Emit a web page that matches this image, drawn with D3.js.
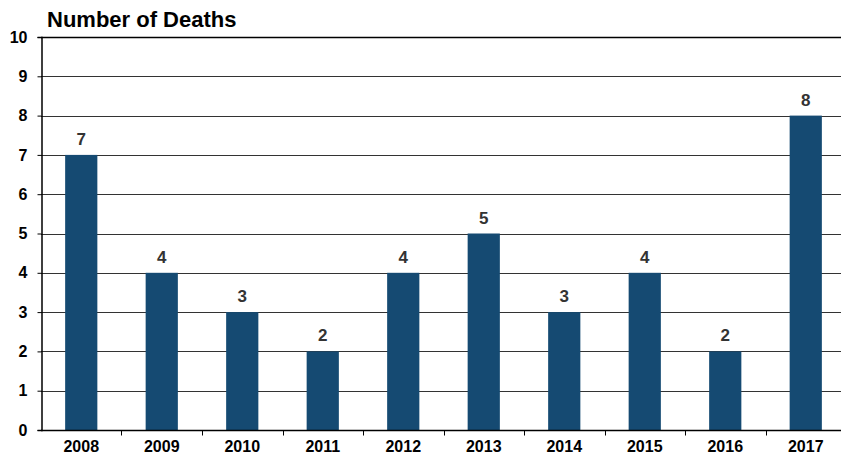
<!DOCTYPE html>
<meta charset="utf-8">
<style>
    body { margin: 0; background: #fff; }
    text { font-family: "Liberation Sans", Arial, sans-serif; font-weight: bold; }
</style>
<script src="https://d3js.org/d3.v7.min.js"></script>
<svg width="841" height="454"></svg>
<script>
    var years = ["2008", "2009", "2010", "2011", "2012", "2013", "2014", "2015", "2016", "2017"];
    var deaths = [7, 4, 3, 2, 4, 5, 3, 4, 2, 8];
    var yTicks = [0, 1, 2, 3, 4, 5, 6, 7, 8, 9, 10];

    var svg = d3.select("svg");
    var plotLeft = 41, plotRight = 846, plotTop = 37, plotBottom = 430;

    var x = d3.scaleBand().domain(years).range([plotLeft, plotRight]).paddingInner(0.6).paddingOuter(0.3);
    var y = d3.scaleLinear().domain([0, 10]).range([plotBottom, plotTop]);

    // gridlines
    svg.append("g").selectAll("line")
        .data(yTicks.slice(1))
        .enter().append("line")
        .attr("x1", plotLeft).attr("x2", 841)
        .attr("y1", function (d) { return Math.round(y(d)) + 0.5; })
        .attr("y2", function (d) { return Math.round(y(d)) + 0.5; })
        .attr("stroke", function (d) { return d === 10 ? "#000" : "#333"; })
        .attr("stroke-width", function (d) { return d === 10 ? 1.5 : 1; });

    // bars
    svg.append("g").selectAll("rect")
        .data(deaths)
        .enter().append("rect")
        .attr("x", function (d, i) { return x(years[i]); })
        .attr("width", x.bandwidth())
        .attr("y", function (d) { return y(d); })
        .attr("height", function (d) { return y(0) - y(d); })
        .attr("fill", "#154a72");

    // value labels
    svg.append("g").selectAll("text")
        .data(deaths)
        .enter().append("text")
        .attr("x", function (d, i) { return x(years[i]) + x.bandwidth() / 2; })
        .attr("y", function (d) { return y(d) - 10; })
        .attr("text-anchor", "middle")
        .attr("font-size", 17)
        .attr("fill", "#333")
        .text(function (d) { return d; });

    // y axis
    var yAxis = svg.append("g")
        .attr("transform", "translate(" + (plotLeft + 0.5) + ",0)")
        .call(d3.axisLeft(y).tickValues(yTicks).tickSize(4).tickPadding(10).tickFormat(d3.format("d")));
    yAxis.select(".domain").attr("stroke", "#000").attr("stroke-width", 1.5);
    yAxis.selectAll(".tick line").attr("stroke", "#000");
    yAxis.selectAll("text").attr("font-size", 16).attr("fill", "#000")
        .style("font-family", "'Liberation Sans', Arial, sans-serif").style("font-weight", "bold");

    // x axis
    var xAxis = svg.append("g").attr("transform", "translate(0," + (plotBottom + 0.5) + ")");
    xAxis.append("line").attr("x1", plotLeft).attr("x2", 841).attr("stroke", "#000").attr("stroke-width", 1.5);
    xAxis.selectAll("line.tk")
        .data(years.slice(1))
        .enter().append("line").attr("class", "tk")
        .attr("x1", function (d) { return Math.round(x(d) - x.step() * x.paddingInner() / 2) + 0.5; })
        .attr("x2", function (d) { return Math.round(x(d) - x.step() * x.paddingInner() / 2) + 0.5; })
        .attr("y1", 0).attr("y2", 5)
        .attr("stroke", "#000");
    xAxis.selectAll("text")
        .data(years)
        .enter().append("text")
        .attr("x", function (d) { return x(d) + x.bandwidth() / 2; })
        .attr("y", 21.5)
        .attr("text-anchor", "middle")
        .attr("font-size", 16)
        .attr("fill", "#000")
        .text(function (d) { return d; });

    svg.append("text")
        .attr("x", 47).attr("y", 27)
        .attr("font-size", 22)
        .attr("fill", "#000")
        .text("Number of Deaths");
</script>
